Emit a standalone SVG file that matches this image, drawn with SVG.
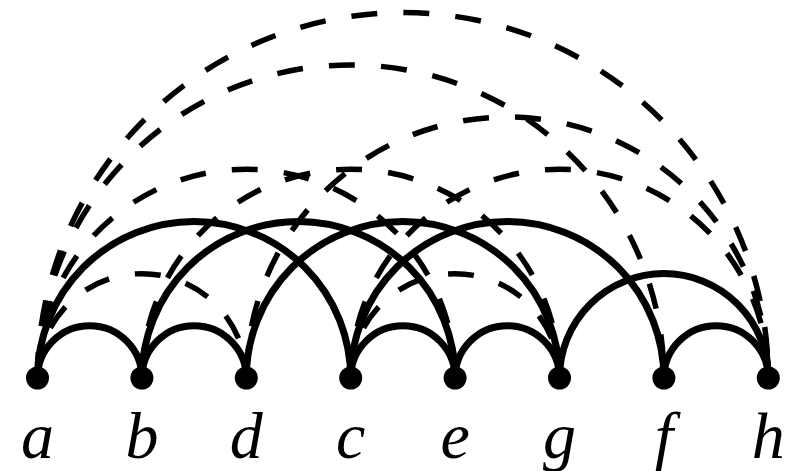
<svg xmlns="http://www.w3.org/2000/svg" width="793" height="471" viewBox="0 0 793 471">
<style>
.solid{fill:none;stroke:#000;stroke-width:7}
.dash{fill:none;stroke:#000;stroke-width:5.5;stroke-dasharray:26 26.2}
.dot{fill:#000}
.lbl{font-family:"Liberation Serif","DejaVu Serif",serif;font-style:italic;font-size:66px;text-anchor:middle;fill:#000}
</style>
<rect width="793" height="471" fill="#fff"/>
<g id="connectors">
<path class="dash" d="M37.5 378 A365.4 365.4 0 0 1 768.3 378"/>
<path class="dash" d="M37.5 378 A313.2 313.2 0 0 1 663.9 378"/>
<path class="dash" d="M37.5 378 A208.8 208.8 0 0 1 455.1 378"/>
<path class="dash" d="M37.5 378 A104.4 104.4 0 0 1 246.3 378"/>
<path class="dash" d="M141.9 378 A208.8 208.8 0 0 1 559.5 378"/>
<path class="dash" d="M246.3 378 A261 261 0 0 1 768.3 378"/>
<path class="dash" d="M350.7 378 A208.8 208.8 0 0 1 768.3 378"/>
<path class="dash" d="M350.7 378 A104.4 104.4 0 0 1 559.5 378"/>
<path class="solid" d="M37.5 378 A52.2 52.2 0 0 1 141.9 378"/>
<path class="solid" d="M141.9 378 A52.2 52.2 0 0 1 246.3 378"/>
<path class="solid" d="M350.7 378 A52.2 52.2 0 0 1 455.1 378"/>
<path class="solid" d="M455.1 378 A52.2 52.2 0 0 1 559.5 378"/>
<path class="solid" d="M663.9 378 A52.2 52.2 0 0 1 768.3 378"/>
<path class="solid" d="M559.5 378 A104.4 104.4 0 0 1 768.3 378"/>
<path class="solid" d="M37.5 378 A156.6 156.6 0 0 1 350.7 378"/>
<path class="solid" d="M141.9 378 A156.6 156.6 0 0 1 455.1 378"/>
<path class="solid" d="M246.3 378 A156.6 156.6 0 0 1 559.5 378"/>
<path class="solid" d="M350.7 378 A156.6 156.6 0 0 1 663.9 378"/>
</g>
<g id="node-a"><circle class="dot" cx="37.5" cy="378" r="11.5"/><text class="lbl" x="37.5" y="458">a</text></g>
<g id="node-b"><circle class="dot" cx="141.9" cy="378" r="11.5"/><text class="lbl" x="141.9" y="458">b</text></g>
<g id="node-d"><circle class="dot" cx="246.3" cy="378" r="11.5"/><text class="lbl" x="246.3" y="458">d</text></g>
<g id="node-c"><circle class="dot" cx="350.7" cy="378" r="11.5"/><text class="lbl" x="350.7" y="458">c</text></g>
<g id="node-e"><circle class="dot" cx="455.1" cy="378" r="11.5"/><text class="lbl" x="455.1" y="458">e</text></g>
<g id="node-g"><circle class="dot" cx="559.5" cy="378" r="11.5"/><text class="lbl" x="559.5" y="458">g</text></g>
<g id="node-f"><circle class="dot" cx="663.9" cy="378" r="11.5"/><text class="lbl" x="663.9" y="458">f</text></g>
<g id="node-h"><circle class="dot" cx="768.3" cy="378" r="11.5"/><text class="lbl" x="768.3" y="458">h</text></g>
</svg>
